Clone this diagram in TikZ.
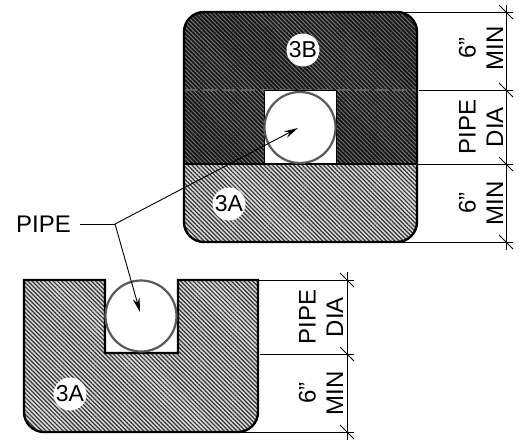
\documentclass[tikz,border=0pt]{standalone}
\usepackage{fontspec}
\setmainfont{Liberation Sans}
\usetikzlibrary{patterns.meta,arrows.meta}
\tikzset{
  darkhatch/.style={pattern={Lines[angle=-45,distance=3pt,line width=.8pt]},pattern color=black!50},
  lighthatch/.style={pattern={Lines[angle=-45,distance=3pt,line width=1.2pt]},pattern color=black!80},
  outline/.style={line width=2.4pt,black},
  pipecircle/.style={draw=black!65,line width=2.2pt,fill=white,circle,minimum size=71pt,inner sep=0pt},
  tag/.style={circle,fill=white,minimum size=33pt,inner sep=0pt,font=\fontsize{23}{23}\selectfont},
  dimtext/.style={rotate=90,align=center,font=\fontsize{24}{27.5}\selectfont},
  dimline/.style={line width=.9pt,black},
  leader/.style={line width=.9pt,black}
}
\begin{document}
\begin{tikzpicture}[x=1pt,y=-1pt]
\useasboundingbox (0,0) rectangle (519,440);
% upper trench
\begin{scope}
\clip[rounded corners=20] (184,12) rectangle (417,242);
\fill[black!90] (184,12) rectangle (417,164);
\fill[darkhatch] (184,12) rectangle (417,164);
\fill[black!15] (184,164) rectangle (417,242);
\fill[lighthatch] (184,164) rectangle (417,242);
\end{scope}
\draw[black!62,line width=2.2pt,dash pattern=on 14pt off 5pt] (184,90) -- (417,90);
\draw[fill=white,line width=1pt] (264,90) rectangle (336,164);
\draw[outline,rounded corners=20] (184,12) rectangle (417,242);
\draw[line width=1.8pt] (184,164) -- (417,164);
\node[pipecircle] (pipeup) at (300,127.5) {};
\node[tag] (tagb) at (303,50) {3B};
\node[tag] (taga) at (229,204) {3A};
% lower trench
\fill[black!15] (24,280) -- (105,280) -- (105,353) -- (178,353) -- (178,280) -- (258,280) [rounded corners=20] -- (258,432) -- (24,432) [sharp corners] -- cycle;
\fill[lighthatch] (24,280) -- (105,280) -- (105,353) -- (178,353) -- (178,280) -- (258,280) [rounded corners=20] -- (258,432) -- (24,432) [sharp corners] -- cycle;
\draw[outline] (24,280) -- (105,280) -- (105,353) -- (178,353) -- (178,280) -- (258,280) [rounded corners=20] -- (258,432) -- (24,432) [sharp corners] -- cycle;
\node[pipecircle] (pipelow) at (141,316) {};
\node[tag] (tagc) at (70,394) {3A};
% dimensions upper
\coordinate (dimtop) at (506,5);
\coordinate (dimbot) at (506,250);
\draw[dimline] (dimtop) -- (dimbot);
\foreach \y/\xs in {12/400,90/419,164/417,242/400}{
  \draw[dimline] (\xs,\y) -- (513,\y);
  \draw[dimline] (499,\y-7) -- (513,\y+7);
}
\node[dimtext] (dimsixb) at (481,48) {6"\\MIN};
\node[dimtext] (dimdiab) at (481,127) {PIPE\\DIA};
\node[dimtext] (dimsixa) at (481,203) {6"\\MIN};
% dimensions lower
\coordinate (lowtop) at (347,272);
\coordinate (lowbot) at (347,440);
\draw[dimline] (lowtop) -- (lowbot);
\foreach \y/\xs in {280/258,354/260,432/240}{
  \draw[dimline] (\xs,\y) -- (354,\y);
  \draw[dimline] (340,\y-7) -- (354,\y+7);
}
\node[dimtext] (lowdia) at (321,317) {PIPE\\DIA};
\node[dimtext] (lowsix) at (321,393) {6"\\MIN};
% leader
\node[font=\fontsize{24}{27}\selectfont,anchor=east,inner sep=0pt] (pipelabel) at (71,224) {PIPE};
\coordinate (knee) at (115,224);
\coordinate (tipup) at (298,128);
\coordinate (tiplow) at (140,312);
\draw[leader] (80,224) -- (knee);
\draw[leader,-{Stealth[length=14pt,width=7pt]}] (knee) -- (tipup);
\draw[leader,-{Stealth[length=14pt,width=7pt]}] (knee) -- (tiplow);
\end{tikzpicture}
\end{document}
